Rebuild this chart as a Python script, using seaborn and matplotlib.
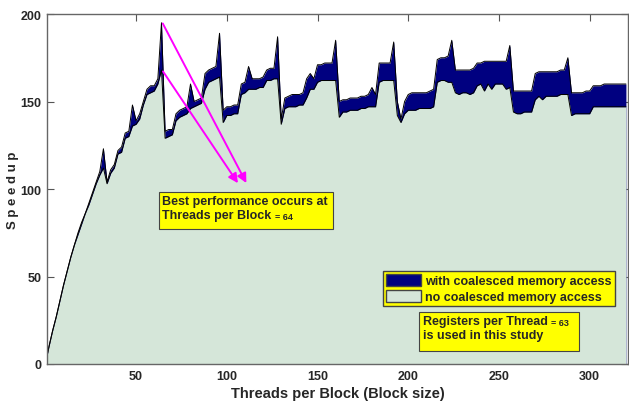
import matplotlib
matplotlib.use("Agg")
import matplotlib.pyplot as plt
import matplotlib.patches as mpatches
import numpy as np
import pandas as pd
import seaborn as sns

# threads per block (x = 1, then every 2 threads up to 320)
threads = np.concatenate([[1], np.arange(2, 321, 2)])

# speedup with coalesced memory access
with_coal = [
    5,
    10, 19, 27, 36, 45, 53, 61, 68, 75, 81, 86, 92, 98, 104,
    110, 123, 104, 111, 114, 122, 124, 132, 133, 148, 139, 143, 150, 157, 159, 159, 163, 195,
    133, 134, 134, 143, 145, 146, 147, 160, 150, 151, 152, 166, 168, 169, 170, 189,
    145, 147, 147, 148, 148, 160, 161, 170, 163, 163, 163, 164, 168, 169, 169, 187,
    140, 152, 153, 154, 154, 154, 155, 163, 166, 163, 171, 171, 172, 172, 172, 185,
    150, 151, 151, 152, 152, 152, 153, 153, 154, 158, 154, 172, 172, 172, 172, 184,
    150, 140, 150, 154, 155, 155, 155, 155, 155, 156, 157, 174, 175, 175, 176, 185,
    168, 168, 168, 168, 168, 169, 172, 172, 173, 173, 173, 173, 173, 173, 173, 182,
    156, 156, 156, 156, 156, 156, 166, 167, 167, 167, 167, 167, 167, 168, 168, 175,
    155, 155, 155, 155, 156, 156, 159, 159, 159, 160, 160, 160, 160, 160, 160, 160,
]

# speedup without coalesced memory access
no_coal = [
    5,
    10, 19, 27, 36, 45, 53, 61, 68, 74, 80, 86, 91, 97, 103,
    108, 112, 103, 109, 112, 120, 121, 129, 130, 136, 137, 140, 148, 154, 155, 156, 160, 168,
    129, 130, 131, 139, 141, 142, 143, 146, 147, 148, 149, 157, 161, 162, 163, 164,
    138, 142, 142, 143, 143, 154, 155, 157, 157, 157, 158, 158, 162, 162, 163, 163,
    137, 146, 147, 147, 147, 148, 148, 152, 157, 157, 161, 162, 162, 162, 162, 162,
    141, 144, 144, 145, 145, 145, 146, 146, 147, 147, 147, 161, 162, 162, 162, 162,
    142, 138, 143, 145, 145, 145, 146, 146, 146, 146, 147, 161, 162, 162, 161, 161,
    155, 154, 155, 155, 154, 155, 159, 160, 156, 160, 157, 160, 160, 160, 157, 158,
    144, 143, 143, 144, 144, 144, 151, 153, 151, 153, 153, 153, 153, 154, 154, 154,
    142, 143, 143, 143, 143, 143, 147, 147, 147, 147, 147, 147, 147, 147, 147, 147,
]

df = pd.DataFrame({"threads": threads, "with": with_coal, "no": no_coal})

navy = "#000080"
pale = "#d5e6d9"
yellow = "#ffff00"

sns.set_theme(style="white")
plt.rcParams["font.family"] = ["Liberation Sans", "DejaVu Sans"]
plt.rcParams["font.weight"] = "bold"

fig = plt.figure(figsize=(6.29, 4.06), dpi=100)
ax = fig.add_axes([0.075, 0.101, 0.923, 0.862])

ax.fill_between(df["threads"], 0, df["with"], color=navy, lw=0)
ax.fill_between(df["threads"], 0, df["no"], color=pale, lw=0)
sns.lineplot(data=df, x="threads", y="with", ax=ax, color="black", lw=0.7)
sns.lineplot(data=df, x="threads", y="no", ax=ax, color="black", lw=0.7)

ax.set_xlim(1, 321)
ax.set_ylim(0, 200)
ax.set_xticks([50, 100, 150, 200, 250, 300])
ax.set_yticks([0, 50, 100, 150, 200])
ax.tick_params(axis="both", direction="in", length=5, width=0.8, color="#555555",
               labelsize=9, top=True, bottom=True, left=True, right=True, pad=4)
for lab in ax.get_xticklabels() + ax.get_yticklabels():
    lab.set_fontweight("bold")
for s in ax.spines.values():
    s.set_color("#666666")
    s.set_linewidth(1.0)

ax.set_xlabel("Threads per Block (Block size)", fontsize=10.5, fontweight="bold", labelpad=3)
ax.set_ylabel("S p e e d u p", fontsize=9.5, fontweight="bold")
ax.yaxis.set_label_coords(-0.048, 0.5)

# arrows from the two peaks at 64 threads to the note
arrow = dict(arrowstyle="-|>", color="#ff00ff", lw=1.4, mutation_scale=14)
ax.annotate("", xy=(111.5, 102), xytext=(64, 196), arrowprops=arrow)
ax.annotate("", xy=(107, 102), xytext=(64, 168.5), arrowprops=arrow)

# yellow note boxes
ax.add_patch(mpatches.Rectangle((62.6, 77.1), 96.2, 21.2, facecolor=yellow,
                                edgecolor="#444444", lw=0.8, zorder=4))
ax.text(64.5, 96.5, "Best performance occurs at\nThreads per Block", fontsize=9,
        fontweight="bold", va="top", ha="left", linespacing=1.2, zorder=5)
ax.text(126.8, 82.6, "= 64", fontsize=6.5, fontweight="bold", va="baseline", ha="left", zorder=5)

ax.add_patch(mpatches.Rectangle((206, 7.4), 88, 22.3, facecolor=yellow,
                                edgecolor="#444444", lw=0.8, zorder=4))
ax.text(208, 28, "Registers per Thread\nis used in this study", fontsize=9,
        fontweight="bold", va="top", ha="left", linespacing=1.2, zorder=5)
ax.text(278.8, 22.3, "= 63", fontsize=6.5, fontweight="bold", va="baseline", ha="left", zorder=5)

handles = [mpatches.Patch(facecolor=navy, edgecolor="#444444", label="with coalesced memory access"),
           mpatches.Patch(facecolor=pale, edgecolor="#444444", label="no coalesced memory access")]
leg = ax.legend(handles=handles, loc="lower left", bbox_to_anchor=(0.579, 0.166),
                fontsize=9, frameon=True, fancybox=False, facecolor=yellow,
                edgecolor="#444444", framealpha=1, handlelength=2.8, handleheight=1.1,
                handletextpad=0.3, borderpad=0.25, labelspacing=0.2, borderaxespad=0)
for t in leg.get_texts():
    t.set_fontweight("bold")

fig.savefig("out.png", dpi=100)
